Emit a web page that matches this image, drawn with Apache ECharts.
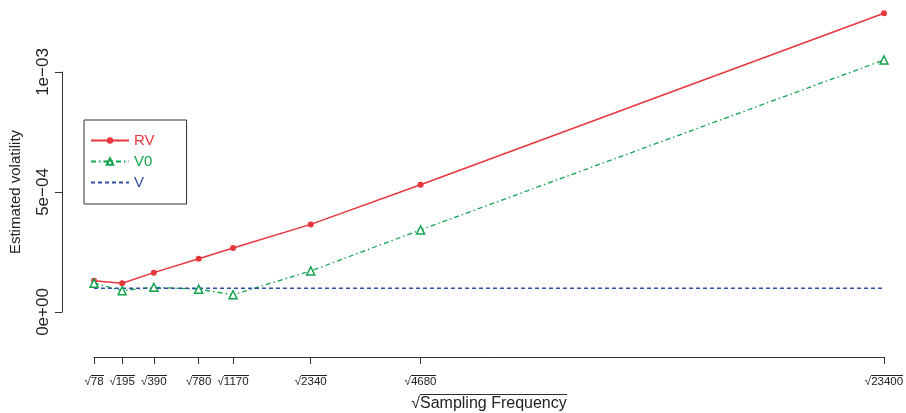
<!DOCTYPE html>
<html><head><meta charset="utf-8">
<script src="https://cdn.jsdelivr.net/npm/echarts@6/dist/echarts.min.js"></script>
<style>html,body{margin:0;padding:0;background:#fff}#c{width:906px;height:413px}</style>
</head><body><div id="c"></div>
<script>
const freqs = [78, 195, 390, 780, 1170, 2340, 4680, 23400];
const tickLabels = ['78', '195', '390', '780', '1170', '2340', '4680', '23400'];
const rv = [1.30e-4, 1.20e-4, 1.64e-4, 2.22e-4, 2.67e-4, 3.65e-4, 5.30e-4, 1.245e-3];
const v0 = [1.20e-4, 0.89e-4, 1.03e-4, 0.95e-4, 0.72e-4, 1.71e-4, 3.42e-4, 1.05e-3];
const vv = [0.99e-4, 0.99e-4, 0.99e-4, 0.99e-4, 0.99e-4, 0.99e-4, 0.99e-4, 0.99e-4];
const yTickLabels = {0: '0e+00', 0.0005: '5e\u221204', 0.001: '1e\u221203'};

const xs = freqs.map(f => Math.sqrt(f));
const FONT = 'Liberation Sans, Arial, sans-serif';
const RED = '#e8363d', GREEN = '#12a350', BLUE = '#2f4fa3';

// small image used as an overline (top row dark) behind rich-text tokens
function overlineImg(h) {
  const c = document.createElement('canvas');
  c.width = 2; c.height = h;
  const g = c.getContext('2d');
  g.fillStyle = '#222';
  g.fillRect(0, 0, 2, 1);
  return c;
}

const chart = echarts.init(document.getElementById('c'));
chart.setOption({
  animation: false,
  textStyle: {fontFamily: FONT},
  grid: {left: 94, right: 22, top: 72, bottom: 101, outerBoundsMode: 'none', containLabel: false},
  xAxis: {
    type: 'value', min: xs[0], max: xs[xs.length - 1], offset: 45,
    splitLine: {show: false},
    axisLine: {onZero: false, lineStyle: {color: '#333', width: 1}},
    axisTick: {customValues: xs, length: 7, lineStyle: {color: '#333'}},
    axisLabel: {
      customValues: xs, fontSize: 11.5, color: '#222', margin: 18,
      formatter: val => { let i = xs.findIndex(x => Math.abs(x - val) < 1e-6); return i >= 0 ? '\u221a{ov|' + tickLabels[i] + '}' : ''; },
      rich: {ov: {fontSize: 11.5, color: '#222', lineHeight: 14, height: 14, backgroundColor: {image: overlineImg(14)}}}
    },
    name: '\u221a{ov|Sampling Frequency}', nameLocation: 'middle', nameGap: 34,
    nameTextStyle: {fontSize: 16, color: '#222', fontFamily: FONT,
      rich: {ov: {fontSize: 16, color: '#222', lineHeight: 19, height: 19, backgroundColor: {image: overlineImg(19)}}}}
  },
  yAxis: {
    type: 'value', min: 0, max: 0.001, interval: 0.0005, offset: 32,
    splitLine: {show: false},
    axisLine: {show: true, onZero: false, lineStyle: {color: '#333', width: 1}},
    axisTick: {show: true, length: 7, lineStyle: {color: '#333'}},
    axisLabel: {rotate: 90, fontSize: 17, color: '#222', margin: 10,
      formatter: val => yTickLabels[val] !== undefined ? yTickLabels[val] : ''},
    name: 'Estimated volatility', nameLocation: 'middle', nameRotate: 90, nameGap: 39,
    nameTextStyle: {fontSize: 15, color: '#222', fontFamily: FONT}
  },
  legend: {
    orient: 'vertical', left: 84, top: 120,
    padding: [13, 32, 14, 6], itemGap: 6, itemWidth: 38, itemHeight: 8,
    borderColor: '#333', borderWidth: 1, borderRadius: 0,
    textStyle: {fontSize: 15, fontFamily: FONT},
    data: [
      {name: 'RV', textStyle: {color: RED}},
      {name: 'V0', textStyle: {color: GREEN}},
      {name: 'V', textStyle: {color: BLUE}, itemStyle: {opacity: 0}}
    ]
  },
  series: [
    {name: 'RV', type: 'line', clip: false, data: xs.map((x, i) => [x, rv[i]]),
      symbol: 'circle', symbolSize: 6, showAllSymbol: true,
      lineStyle: {color: RED, width: 1.5}, itemStyle: {color: RED}},
    {name: 'V0', type: 'line', clip: false, data: xs.map((x, i) => [x, v0[i]]),
      symbol: 'triangle', symbolSize: 8, showAllSymbol: true,
      lineStyle: {color: GREEN, width: 1.3, type: [5, 3, 1.5, 3]},
      itemStyle: {color: '#fff', borderColor: GREEN, borderWidth: 1.5}},
    {name: 'V', type: 'line', clip: false, data: xs.map((x, i) => [x, vv[i]]),
      symbol: 'none', showSymbol: false,
      lineStyle: {color: BLUE, width: 1.3, type: [4, 3]}, itemStyle: {color: BLUE}}
  ]
});
</script></body></html>
